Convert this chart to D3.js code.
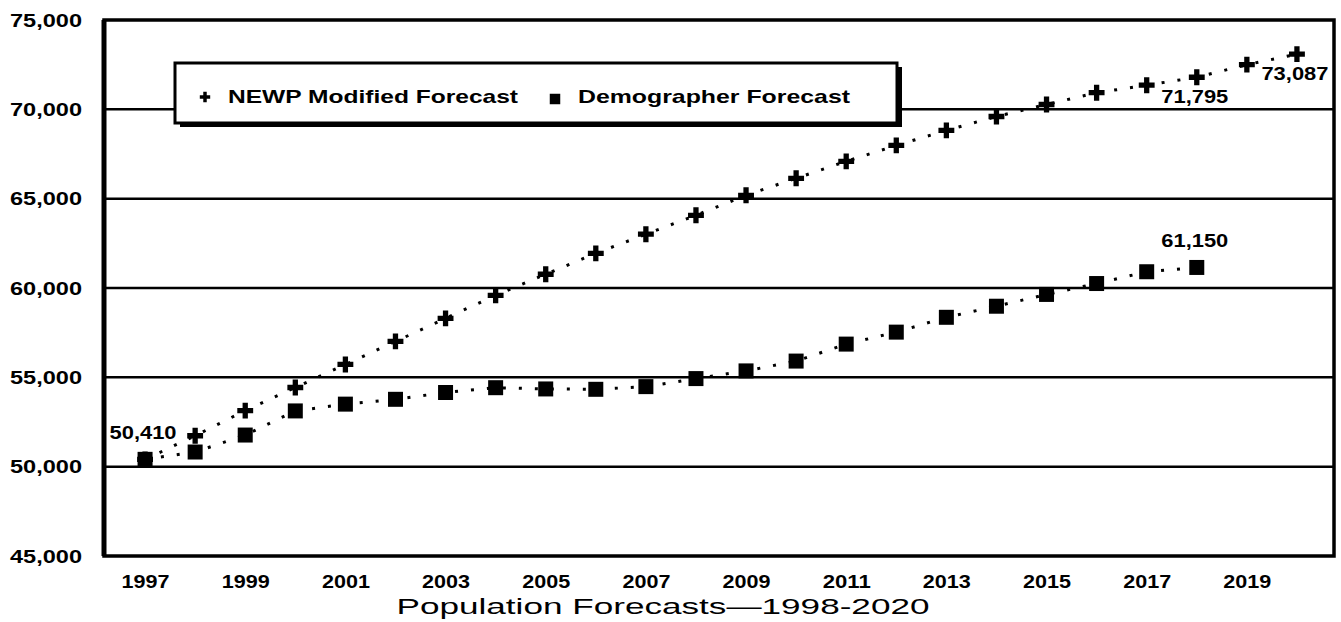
<!DOCTYPE html>
<html>
<head>
<meta charset="utf-8">
<script src="https://cdn.jsdelivr.net/npm/d3@7/dist/d3.min.js"></script>
<style>
  body { margin: 0; background: #fff; }
  text { font-family: "Liberation Sans", Arial, sans-serif; font-weight: bold; fill: #000; }
</style>
</head>
<body>
<div class="chart"></div>
<script>
// data
var newpYears = [1997, 1998, 1999, 2000, 2001, 2002, 2003, 2004, 2005, 2006, 2007, 2008,
  2009, 2010, 2011, 2012, 2013, 2014, 2015, 2016, 2017, 2018, 2019, 2020];
var newpValues = [50410, 51730, 53140, 54430, 55720, 57010, 58300, 59590, 60770, 61940, 63010, 64070,
  65190, 66140, 67090, 67980, 68820, 69600, 70270, 70930, 71350, 71795, 72500, 73087];

var demogYears = [1997, 1998, 1999, 2000, 2001, 2002, 2003, 2004, 2005, 2006, 2007, 2008,
  2009, 2010, 2011, 2012, 2013, 2014, 2015, 2016, 2017, 2018];
var demogValues = [50410, 50820, 51770, 53120, 53500, 53770, 54150, 54420, 54350, 54330, 54480, 54930,
  55360, 55910, 56860, 57530, 58360, 58980, 59640, 60250, 60910, 61150];

var yTicks = [45000, 50000, 55000, 60000, 65000, 70000, 75000];
var gridValues = [50000, 55000, 60000, 65000, 70000];
var xTicks = [1997, 1999, 2001, 2003, 2005, 2007, 2009, 2011, 2013, 2015, 2017, 2019];

var seriesNames = ["NEWP Modified Forecast", "Demographer Forecast"];
var chartTitle = "Population Forecasts\u20141998-2020";

// which points carry a value label: [series, year]
var labelledPoints = [["demog", 1997], ["demog", 2018], ["newp", 2018], ["newp", 2020]];

var svgWidth = 1341;
var svgHeight = 622;
var margin = { top: 20, right: 7, bottom: 66, left: 104 };
var width = svgWidth - margin.left - margin.right;
var height = svgHeight - margin.top - margin.bottom;

var svg = d3.select(".chart")
  .append("svg")
  .attr("width", svgWidth)
  .attr("height", svgHeight);

var chartGroup = svg.append("g")
  .attr("transform", `translate(${margin.left}, ${margin.top})`);

var xScale = d3.scaleLinear()
  .domain([1996.18, 2020.74])
  .range([0, width]);

var yScale = d3.scaleLinear()
  .domain([45000, 75000])
  .range([height, 0]);

var newp = newpYears.map((yr, i) => ({ year: yr, value: newpValues[i] }));
var demog = demogYears.map((yr, i) => ({ year: yr, value: demogValues[i] }));

// gridlines
chartGroup.selectAll("line.grid")
  .data(gridValues)
  .enter()
  .append("line")
  .attr("class", "grid")
  .attr("x1", 0)
  .attr("x2", width)
  .attr("y1", d => yScale(d))
  .attr("y2", d => yScale(d))
  .attr("stroke", "#000")
  .attr("stroke-width", 2.5);

// axes
var yAxis = d3.axisLeft(yScale)
  .tickValues(yTicks)
  .tickSize(0)
  .tickPadding(22)
  .tickFormat(d3.format(","));

var yAxisG = chartGroup.append("g").call(yAxis);
yAxisG.select(".domain").remove();
yAxisG.selectAll("text")
  .attr("font-size", 19)
  .attr("textLength", 72)
  .attr("lengthAdjust", "spacingAndGlyphs");

var xAxis = d3.axisBottom(xScale)
  .tickValues(xTicks)
  .tickSize(0)
  .tickPadding(19)
  .tickFormat(d3.format("d"));

var xAxisG = chartGroup.append("g")
  .attr("transform", `translate(0, ${height})`)
  .call(xAxis);
xAxisG.select(".domain").remove();
xAxisG.selectAll("text")
  .attr("font-size", 18)
  .attr("textLength", 48)
  .attr("lengthAdjust", "spacingAndGlyphs");

// frame
chartGroup.append("rect")
  .attr("x", 0)
  .attr("y", 0)
  .attr("width", width)
  .attr("height", height)
  .attr("fill", "none")
  .attr("stroke", "#000")
  .attr("stroke-width", 3.5);
chartGroup.append("line")
  .attr("x1", 0).attr("x2", 0)
  .attr("y1", 0).attr("y2", height)
  .attr("stroke", "#000")
  .attr("stroke-width", 5);

// dotted connectors
var line = d3.line()
  .x(d => xScale(d.year))
  .y(d => yScale(d.value));

[newp, demog].forEach(function(series) {
  chartGroup.append("path")
    .datum(series)
    .attr("d", line)
    .attr("fill", "none")
    .attr("stroke", "#000")
    .attr("stroke-width", 3)
    .attr("stroke-dasharray", "3,13");
});

// markers
var plusSym = d3.symbol().type(d3.symbolCross).size(140);
var squareSym = d3.symbol().type(d3.symbolSquare).size(225);

chartGroup.selectAll("path.newp")
  .data(newp)
  .enter()
  .append("path")
  .attr("class", "newp")
  .attr("d", plusSym)
  .attr("transform", d => `translate(${xScale(d.year)}, ${yScale(d.value)})`)
  .attr("fill", "#000");

chartGroup.selectAll("path.demog")
  .data(demog)
  .enter()
  .append("path")
  .attr("class", "demog")
  .attr("d", squareSym)
  .attr("transform", d => `translate(${xScale(d.year)}, ${yScale(d.value)})`)
  .attr("fill", "#000");

// value labels
var lookup = { newp: newp, demog: demog };
labelledPoints.forEach(function(p) {
  var pt = lookup[p[0]].find(d => d.year === p[1]);
  var dy = p[0] === "demog" ? -20 : 26;
  chartGroup.append("text")
    .attr("x", xScale(pt.year) - 2)
    .attr("y", yScale(pt.value) + dy)
    .attr("text-anchor", "middle")
    .attr("font-size", 18)
    .attr("textLength", 67)
    .attr("lengthAdjust", "spacingAndGlyphs")
    .text(d3.format(",")(pt.value));
});

// legend
var legend = svg.append("g").attr("transform", "translate(175, 63)");
legend.append("rect")
  .attr("x", 5).attr("y", 4)
  .attr("width", 722).attr("height", 60)
  .attr("fill", "#000");
legend.append("rect")
  .attr("x", 0).attr("y", 0)
  .attr("width", 722).attr("height", 60)
  .attr("fill", "#fff")
  .attr("stroke", "#000")
  .attr("stroke-width", 3);

legend.append("path")
  .attr("d", d3.symbol().type(d3.symbolCross).size(60))
  .attr("transform", "translate(30, 34)");
legend.append("text")
  .attr("x", 53).attr("y", 40)
  .attr("font-size", 19)
  .attr("textLength", 290)
  .attr("lengthAdjust", "spacingAndGlyphs")
  .text(seriesNames[0]);

legend.append("path")
  .attr("d", d3.symbol().type(d3.symbolSquare).size(110))
  .attr("transform", "translate(380, 36)");
legend.append("text")
  .attr("x", 403).attr("y", 40)
  .attr("font-size", 19)
  .attr("textLength", 272)
  .attr("lengthAdjust", "spacingAndGlyphs")
  .text(seriesNames[1]);

// title under x axis
svg.append("text")
  .attr("x", 663)
  .attr("y", 614)
  .attr("text-anchor", "middle")
  .attr("font-size", 22)
  .style("font-weight", "normal")
  .attr("textLength", 533)
  .attr("lengthAdjust", "spacingAndGlyphs")
  .text(chartTitle);
</script>
</body>
</html>
